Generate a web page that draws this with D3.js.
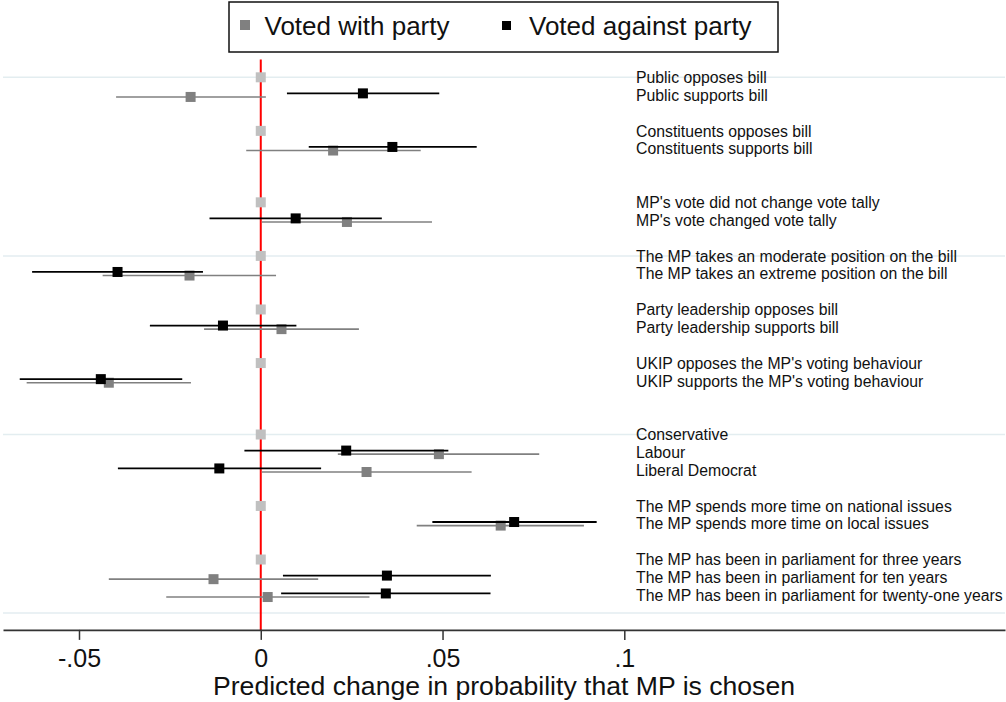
<!DOCTYPE html>
<html>
<head>
<meta charset="utf-8">
<script src="https://cdn.jsdelivr.net/npm/d3@7"></script>
<style>
  html, body { margin: 0; padding: 0; background: #fff; }
  svg { display: block; font-family: "Liberation Sans", Arial, Helvetica, sans-serif; }
</style>
</head>
<body>
<svg id="chart" width="1006" height="702"></svg>
<script>
// Row order of the coefficient plot (null = empty spacer row)
const rowLabels = [
  "Public opposes bill",
  "Public supports bill",
  null,
  "Constituents opposes bill",
  "Constituents supports bill",
  null,
  null,
  "MP's vote did not change vote tally",
  "MP's vote changed vote tally",
  null,
  "The MP takes an moderate position on the bill",
  "The MP takes an extreme position on the bill",
  null,
  "Party leadership opposes bill",
  "Party leadership supports bill",
  null,
  "UKIP opposes the MP's voting behaviour",
  "UKIP supports the MP's voting behaviour",
  null,
  null,
  "Conservative",
  "Labour",
  "Liberal Democrat",
  null,
  "The MP spends more time on national issues",
  "The MP spends more time on local issues",
  null,
  "The MP has been in parliament for three years",
  "The MP has been in parliament for ten years",
  "The MP has been in parliament for twenty-one years"
];

// Reference categories (effect fixed at zero)
const baseLevels = [
  "Public opposes bill",
  "Constituents opposes bill",
  "MP's vote did not change vote tally",
  "The MP takes an moderate position on the bill",
  "Party leadership opposes bill",
  "UKIP opposes the MP's voting behaviour",
  "Conservative",
  "The MP spends more time on national issues",
  "The MP has been in parliament for three years"
];

// Estimated levels
const effectLevels = [
  "Public supports bill",
  "Constituents supports bill",
  "MP's vote changed vote tally",
  "The MP takes an extreme position on the bill",
  "Party leadership supports bill",
  "UKIP supports the MP's voting behaviour",
  "Labour",
  "Liberal Democrat",
  "The MP spends more time on local issues",
  "The MP has been in parliament for ten years",
  "The MP has been in parliament for twenty-one years"
];

// Voted with party: estimate and 95% interval
const withEst = [-0.0193, 0.0199, 0.0237, -0.0196, 0.0057, -0.0418, 0.0490, 0.0291, 0.0660, -0.0130, 0.0019];
const withLo  = [-0.0398, -0.0040, 0.0003, -0.0435, -0.0156, -0.0644, 0.0212, 0.0003, 0.0429, -0.0418, -0.0260];
const withHi  = [0.0014, 0.0440, 0.0471, 0.0042, 0.0270, -0.0192, 0.0766, 0.0580, 0.0889, 0.0158, 0.0299];

// Voted against party: estimate and 95% interval
const againstEst = [0.0281, 0.0362, 0.0096, -0.0394, -0.0104, -0.0440, 0.0235, -0.0114, 0.0697, 0.0347, 0.0344];
const againstLo  = [0.0072, 0.0132, -0.0141, -0.0629, -0.0305, -0.0663, -0.0045, -0.0393, 0.0472, 0.0061, 0.0056];
const againstHi  = [0.0491, 0.0594, 0.0333, -0.0159, 0.0098, -0.0216, 0.0516, 0.0166, 0.0924, 0.0633, 0.0632];

const xTickValues = [-0.05, 0, 0.05, 0.1];
const yGridRows = [0, 10, 20, 30];

const legendLabels = ["Voted with party", "Voted against party"];
const xTitle = "Predicted change in probability that MP is chosen";

// ---------------------------------------------------------------
const svg = d3.select("#chart");

const x = d3.scaleLinear().domain([-0.05, 0.1]).range([79, 624.3]);
const xAxisScale = x.copy().domain([x.invert(3), x.invert(1005)]).range([3, 1005]);
const y = d3.scaleLinear().domain([0, 30]).range([77.3, 613.1]);
const axisY = y(30.94);
const plotTop = y(-1);

const rowIndex = new Map(rowLabels.map((l, i) => [l, i]).filter(d => d[0] !== null));

const series = [
  { name: legendLabels[0], est: withEst, lo: withLo, hi: withHi, color: "#808080", lw: 1.6, off: 0.1 },
  { name: legendLabels[1], est: againstEst, lo: againstLo, hi: againstHi, color: "#000000", lw: 1.8, off: -0.1 }
];

// horizontal grid
svg.append("g").selectAll("line").data(yGridRows).join("line")
  .attr("x1", 3).attr("x2", 1005)
  .attr("y1", d => y(d)).attr("y2", d => y(d))
  .attr("stroke", "#e3edf0").attr("stroke-width", 1.5);

// zero reference line
svg.append("line")
  .attr("x1", x(0)).attr("x2", x(0))
  .attr("y1", plotTop).attr("y2", axisY)
  .attr("stroke", "#ff0000").attr("stroke-width", 2);

// level labels
svg.append("g").selectAll("text").data(rowLabels.filter(d => d !== null)).join("text")
  .attr("x", 636).attr("y", d => y(rowIndex.get(d)))
  .attr("dy", "0.36em")
  .attr("font-size", 15.8).attr("fill", "#111")
  .text(d => d);

// reference-category markers
const ms = 10;
svg.append("g").selectAll("rect").data(baseLevels).join("rect")
  .attr("x", x(0) - ms / 2).attr("y", d => y(rowIndex.get(d)) - ms / 2)
  .attr("width", ms).attr("height", ms)
  .attr("fill", "#c0c0c0");

// confidence intervals and estimates
series.forEach(s => {
  const g = svg.append("g");
  const rows = effectLevels.map((l, i) => ({ r: rowIndex.get(l) + s.off, est: s.est[i], lo: s.lo[i], hi: s.hi[i] }));
  g.selectAll("line").data(rows).join("line")
    .attr("x1", d => x(d.lo)).attr("x2", d => x(d.hi))
    .attr("y1", d => y(d.r)).attr("y2", d => y(d.r))
    .attr("stroke", s.color).attr("stroke-width", s.lw);
  g.selectAll("rect").data(rows).join("rect")
    .attr("x", d => x(d.est) - ms / 2).attr("y", d => y(d.r) - ms / 2)
    .attr("width", ms).attr("height", ms)
    .attr("fill", s.color);
});

// x axis (Stata-style labels without a leading zero)
const fmt = d => String(d).replace(/^(-?)0\./, "$1.");
const axis = svg.append("g")
  .attr("transform", `translate(0,${axisY})`)
  .call(d3.axisBottom(xAxisScale).tickValues(xTickValues).tickFormat(fmt).tickSize(10).tickSizeOuter(0));
axis.select(".domain").attr("stroke", "#333").attr("stroke-width", 1.7);
axis.selectAll(".tick line").attr("stroke", "#333").attr("stroke-width", 1.5);
axis.selectAll(".tick text")
  .attr("y", 37).attr("dy", 0)
  .attr("font-size", 25).attr("fill", "#111")
  .attr("font-family", "Liberation Sans, Arial, sans-serif");

svg.append("text")
  .attr("x", 504).attr("y", 695)
  .attr("text-anchor", "middle")
  .attr("font-size", 26.6).attr("fill", "#111")
  .text(xTitle);

// legend
const lg = svg.append("g");
lg.append("rect")
  .attr("x", 229).attr("y", 2).attr("width", 549).attr("height", 50)
  .attr("fill", "#fff").attr("stroke", "#111").attr("stroke-width", 1.5);
lg.append("rect").attr("x", 240).attr("y", 20).attr("width", 10).attr("height", 10).attr("fill", "#808080");
lg.append("text").attr("x", 264.5).attr("y", 35).attr("font-size", 26).attr("fill", "#111").text(legendLabels[0]);
lg.append("rect").attr("x", 502).attr("y", 21).attr("width", 9).attr("height", 9).attr("fill", "#000");
lg.append("text").attr("x", 529).attr("y", 35).attr("font-size", 26).attr("fill", "#111").text(legendLabels[1]);
</script>
</body>
</html>
